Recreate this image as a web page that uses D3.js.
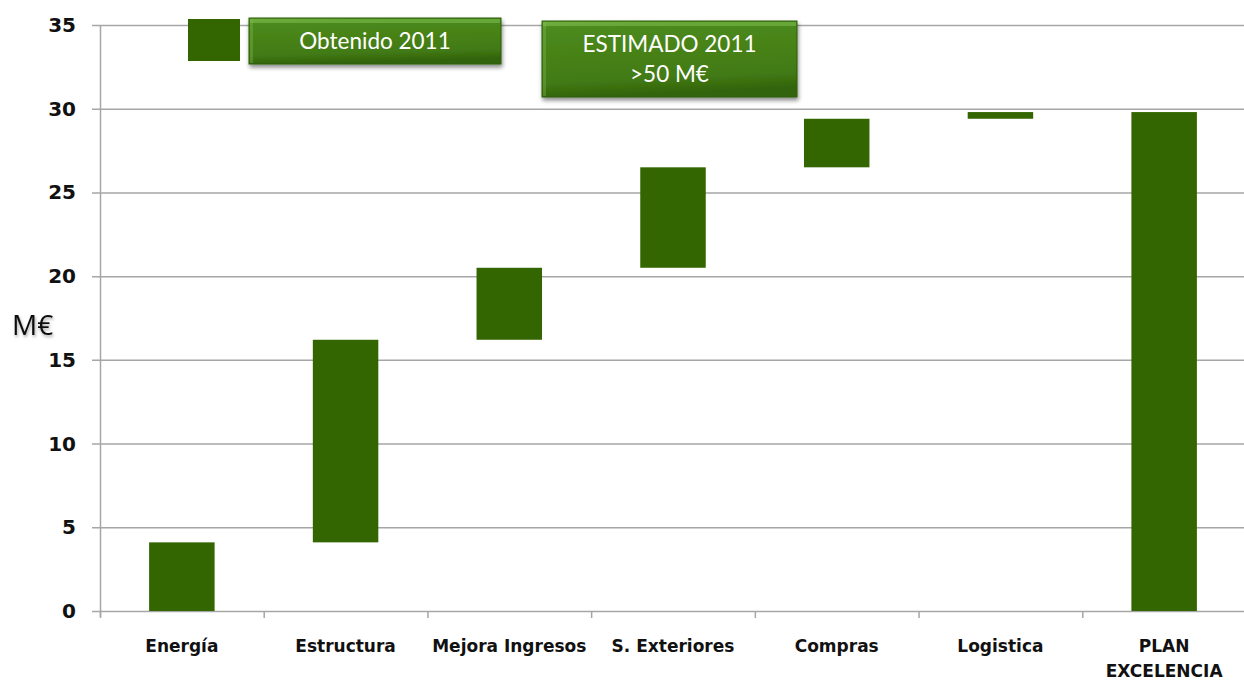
<!DOCTYPE html>
<html><head><meta charset="utf-8">
<script src="https://cdn.jsdelivr.net/npm/d3@7"></script>
<style>
html,body{margin:0;padding:0;background:#fff;}
svg{display:block;}
</style></head>
<body>
<svg id="chart" width="1244" height="680"></svg>
<script>
const categories = ["Energía","Estructura","Mejora Ingresos","S. Exteriores","Compras","Logistica","PLAN\nEXCELENCIA"];
const barStart = [0, 4.1, 16.2, 20.5, 26.5, 29.4, 0];
const barEnd   = [4.1, 16.2, 20.5, 26.5, 29.4, 29.8, 29.8];
const yTicks = [0,5,10,15,20,25,30,35];
const yTitle = "M€";
const legendLabel = "Obtenido 2011";
const noteLines = ["ESTIMADO 2011", ">50 M€"];

const svg = d3.select("#chart");
const m = {left:100, right:1246, top:25, bottom:611};
const x = d3.scaleBand().domain(categories).range([m.left, m.right]).paddingInner(0.6).paddingOuter(0.3);
const y = d3.scaleLinear().domain([0,35]).range([m.bottom, m.top]);
const green = "#336600";

const defs = svg.append("defs");
const g1 = defs.append("linearGradient").attr("id","boxg").attr("x1",0).attr("y1",0).attr("x2",0.15).attr("y2",1);
g1.append("stop").attr("offset","0%").attr("stop-color","#5c9a2a");
g1.append("stop").attr("offset","10%").attr("stop-color","#4c8a1c");
g1.append("stop").attr("offset","80%").attr("stop-color","#427a14");
g1.append("stop").attr("offset","100%").attr("stop-color","#32640c");
const f = defs.append("filter").attr("id","sh").attr("x","-10%").attr("y","-10%").attr("width","130%").attr("height","140%");
f.append("feDropShadow").attr("dx",1).attr("dy",3).attr("stdDeviation",2).attr("flood-color","#000").attr("flood-opacity",0.45);
const ft = defs.append("filter").attr("id","tsh").attr("x","-20%").attr("y","-20%").attr("width","140%").attr("height","160%");
ft.append("feDropShadow").attr("dx",1).attr("dy",2).attr("stdDeviation",1.5).attr("flood-color","#000").attr("flood-opacity",0.35);

// gridlines
svg.append("g").selectAll("line").data(yTicks).join("line")
  .attr("x1", m.left - 8).attr("x2", 1244)
  .attr("y1", d=>y(d)+0.5).attr("y2", d=>y(d)+0.5)
  .attr("stroke","#a6a6a6").attr("stroke-width",1.5);

// y axis line
svg.append("line").attr("x1",m.left+0.5).attr("x2",m.left+0.5).attr("y1",m.top).attr("y2",m.bottom+6)
  .attr("stroke","#a6a6a6").attr("stroke-width",1.5);

// x ticks at band boundaries
const step = x.step();
const bounds = d3.range(categories.length+1).map(i => m.left + i*step);
svg.append("g").selectAll("line").data(bounds).join("line")
  .attr("x1",d=>d+0.5).attr("x2",d=>d+0.5).attr("y1",m.bottom).attr("y2",m.bottom+7)
  .attr("stroke","#a6a6a6").attr("stroke-width",1.5);

// y tick labels
svg.append("g").selectAll("text").data(yTicks).join("text")
  .attr("x", 76).attr("y", d=>y(d)+7)
  .attr("text-anchor","end")
  .attr("font-family","DejaVu Sans, sans-serif").attr("font-weight","bold").attr("font-size",20)
  .attr("fill","#111").text(d=>d);

// bars
svg.append("g").selectAll("rect").data(categories).join("rect")
  .attr("x", d=>x(d)).attr("width", x.bandwidth())
  .attr("y", (d,i)=>y(barEnd[i])).attr("height",(d,i)=>y(barStart[i])-y(barEnd[i]))
  .attr("fill", green);

// x labels
const xl = svg.append("g");
categories.forEach(c=>{
  const lines = c.split("\n");
  const t = xl.append("text").attr("x", x(c)+x.bandwidth()/2).attr("y", 652)
    .attr("text-anchor","middle").attr("font-family","DejaVu Sans, sans-serif")
    .attr("font-weight","bold").attr("font-size",17).attr("fill","#111");
  lines.forEach((l,i)=>t.append("tspan").attr("x", x(c)+x.bandwidth()/2).attr("dy", i?25:0).text(l));
});

// y title
svg.append("text").attr("x",12).attr("y",335).attr("font-family","Open Sans, sans-serif")
  .attr("font-size",28).attr("fill","#111").attr("filter","url(#tsh)").text(yTitle);

// legend square
svg.append("rect").attr("x",188).attr("y",y(35)-6).attr("width",52).attr("height",42).attr("fill",green);

function box(x0,y0,w,h,lines){
  const g = svg.append("g");
  g.append("rect").attr("x",x0).attr("y",y0).attr("width",w).attr("height",h)
    .attr("fill","url(#boxg)").attr("filter","url(#sh)").attr("stroke","#2c5c0c").attr("stroke-width",1);
  g.append("rect").attr("x",x0+1).attr("y",y0+1).attr("width",w-2).attr("height",4).attr("fill","#80c050").attr("opacity",0.55);
  g.append("rect").attr("x",x0+1).attr("y",y0+1).attr("width",3).attr("height",h-2).attr("fill","#80c050").attr("opacity",0.35);
  const lh = 30;
  const cy = y0 + h/2 - (lines.length-1)*lh/2 + 8;
  lines.forEach((l,i)=>{
    g.append("text").attr("x",x0+w/2).attr("y",cy+i*lh).attr("text-anchor","middle")
      .attr("font-family","Lato, sans-serif").attr("font-size",22.5).attr("fill","#fff").text(l);
  });
}
box(249,18,252,46,[legendLabel]);
box(542,21,255,76,noteLines);
</script>
</body></html>
